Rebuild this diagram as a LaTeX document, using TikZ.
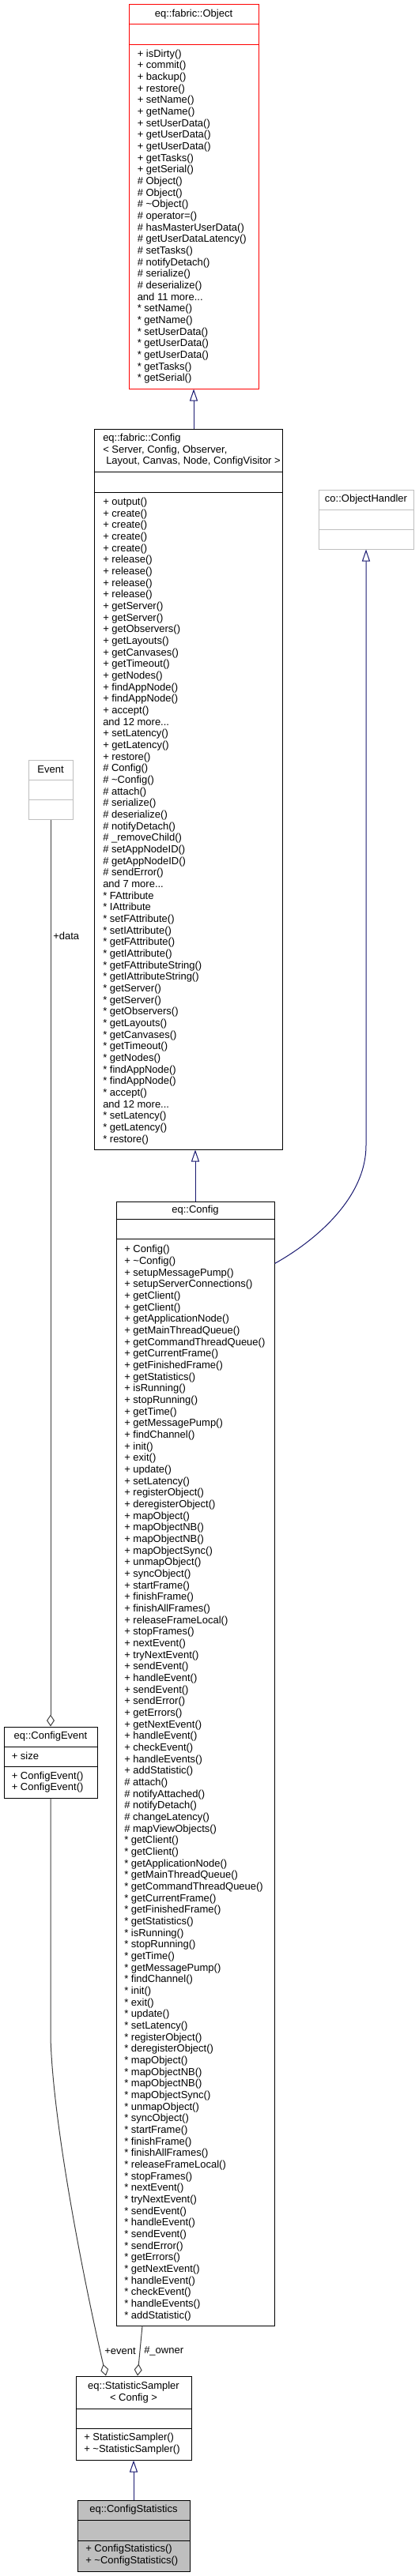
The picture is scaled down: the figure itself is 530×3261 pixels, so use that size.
\documentclass[tikz,border=0pt]{standalone}
\usepackage{fontspec}
\setmainfont{Liberation Sans}
\usetikzlibrary{arrows.meta,fit,calc}
\definecolor{genblue}{HTML}{191970}
\definecolor{aggrey}{HTML}{404040}
\definecolor{softgrey}{HTML}{BFBFBF}
\definecolor{objred}{HTML}{FF0000}
\definecolor{hilite}{HTML}{BFBFBF}
\newcommand\usep[3][black]{\draw[#1, line width=0.75pt] (#2.west |- 0,#3) -- (#2.east |- 0,#3);}
\newcommand\umllines[1]{\begin{tabular}{@{}l@{}}#1\end{tabular}}
\newcommand\umlcentre[1]{\begin{tabular}{@{}c@{}}#1\end{tabular}}
\begin{document}
\begin{tikzpicture}[x=0.75pt,y=-0.75pt,
  umlbox/.style={draw=black, line width=0.75pt, inner sep=0pt},
  txt/.style={font=\fontsize{9.75pt}{11pt}\selectfont, inner sep=0pt},
  members/.style={txt, anchor=north west},
  genarrow/.style={draw=genblue, line width=0.75pt, -{Triangle[open, length=11.25pt, width=7.5pt]}},
  aggline/.style={draw=aggrey, line width=0.75pt, {Diamond[open, length=11.25pt, width=7.5pt]}-},
  lbl/.style={txt, anchor=west},
]
\useasboundingbox (0,0) rectangle (530,3261);

% ---------- eq::fabric::Object
\node[umlbox, draw=objred, fit={(163,6) (327,492)}] (obj) {};
\usep[objred]{obj}{31}
\usep[objred]{obj}{57}
\node[txt] (objt) at (245,18) {eq::fabric::Object};
\node[members] (objm) at (173.5,61.6) {\umllines{+ isDirty()\\
+ commit()\\
+ backup()\\
+ restore()\\
+ setName()\\
+ getName()\\
+ setUserData()\\
+ getUserData()\\
+ getUserData()\\
+ getTasks()\\
+ getSerial()\\
\# Object()\\
\# Object()\\
\# \textasciitilde Object()\\
\# operator=()\\
\# hasMasterUserData()\\
\# getUserDataLatency()\\
\# setTasks()\\
\# notifyDetach()\\
\# serialize()\\
\# deserialize()\\
and 11 more...\\
{*} setName()\\
{*} getName()\\
{*} setUserData()\\
{*} getUserData()\\
{*} getUserData()\\
{*} getTasks()\\
{*} getSerial()}};

% ---------- eq::fabric::Config
\node[umlbox, fit={(119,543) (357,1455)}] (fab) {};
\usep{fab}{597}
\usep{fab}{623}
\node[members] (fabt) at (130,548.1) {\umllines{eq::fabric::Config\\
< Server, Config, Observer,\\
\hspace*{3pt}Layout, Canvas, Node, ConfigVisitor >}};
\node[members] (fabm) at (130,628.8) {\umllines{+ output()\\
+ create()\\
+ create()\\
+ create()\\
+ create()\\
+ release()\\
+ release()\\
+ release()\\
+ release()\\
+ getServer()\\
+ getServer()\\
+ getObservers()\\
+ getLayouts()\\
+ getCanvases()\\
+ getTimeout()\\
+ getNodes()\\
+ findAppNode()\\
+ findAppNode()\\
+ accept()\\
and 12 more...\\
+ setLatency()\\
+ getLatency()\\
+ restore()\\
\# Config()\\
\# \textasciitilde Config()\\
\# attach()\\
\# serialize()\\
\# deserialize()\\
\# notifyDetach()\\
\# \_removeChild()\\
\# setAppNodeID()\\
\# getAppNodeID()\\
\# sendError()\\
and 7 more...\\
{*} FAttribute\\
{*} IAttribute\\
{*} setFAttribute()\\
{*} setIAttribute()\\
{*} getFAttribute()\\
{*} getIAttribute()\\
{*} getFAttributeString()\\
{*} getIAttributeString()\\
{*} getServer()\\
{*} getServer()\\
{*} getObservers()\\
{*} getLayouts()\\
{*} getCanvases()\\
{*} getTimeout()\\
{*} getNodes()\\
{*} findAppNode()\\
{*} findAppNode()\\
{*} accept()\\
and 12 more...\\
{*} setLatency()\\
{*} getLatency()\\
{*} restore()}};

% ---------- co::ObjectHandler
\node[umlbox, draw=softgrey, fit={(403,620) (523,695)}] (oh) {};
\usep[softgrey]{oh}{645}
\usep[softgrey]{oh}{670}
\node[txt] (oht) at (463,632) {co::ObjectHandler};

% ---------- Event
\node[umlbox, draw=softgrey, fit={(36,962) (92,1037)}] (ev) {};
\usep[softgrey]{ev}{987}
\usep[softgrey]{ev}{1012}
\node[txt] (evt) at (64,974) {Event};

% ---------- eq::Config
\node[umlbox, fit={(147,1521) (347,2944)}] (cfg) {};
\usep{cfg}{1543}
\usep{cfg}{1568}
\node[txt] (cfgt) at (247,1532) {eq::Config};
\node[members] (cfgm) at (157,1575.4) {\umllines{+ Config()\\
+ \textasciitilde Config()\\
+ setupMessagePump()\\
+ setupServerConnections()\\
+ getClient()\\
+ getClient()\\
+ getApplicationNode()\\
+ getMainThreadQueue()\\
+ getCommandThreadQueue()\\
+ getCurrentFrame()\\
+ getFinishedFrame()\\
+ getStatistics()\\
+ isRunning()\\
+ stopRunning()\\
+ getTime()\\
+ getMessagePump()\\
+ findChannel()\\
+ init()\\
+ exit()\\
+ update()\\
+ setLatency()\\
+ registerObject()\\
+ deregisterObject()\\
+ mapObject()\\
+ mapObjectNB()\\
+ mapObjectNB()\\
+ mapObjectSync()\\
+ unmapObject()\\
+ syncObject()\\
+ startFrame()\\
+ finishFrame()\\
+ finishAllFrames()\\
+ releaseFrameLocal()\\
+ stopFrames()\\
+ nextEvent()\\
+ tryNextEvent()\\
+ sendEvent()\\
+ handleEvent()\\
+ sendEvent()\\
+ sendError()\\
+ getErrors()\\
+ getNextEvent()\\
+ handleEvent()\\
+ checkEvent()\\
+ handleEvents()\\
+ addStatistic()\\
\# attach()\\
\# notifyAttached()\\
\# notifyDetach()\\
\# changeLatency()\\
\# mapViewObjects()\\
{*} getClient()\\
{*} getClient()\\
{*} getApplicationNode()\\
{*} getMainThreadQueue()\\
{*} getCommandThreadQueue()\\
{*} getCurrentFrame()\\
{*} getFinishedFrame()\\
{*} getStatistics()\\
{*} isRunning()\\
{*} stopRunning()\\
{*} getTime()\\
{*} getMessagePump()\\
{*} findChannel()\\
{*} init()\\
{*} exit()\\
{*} update()\\
{*} setLatency()\\
{*} registerObject()\\
{*} deregisterObject()\\
{*} mapObject()\\
{*} mapObjectNB()\\
{*} mapObjectNB()\\
{*} mapObjectSync()\\
{*} unmapObject()\\
{*} syncObject()\\
{*} startFrame()\\
{*} finishFrame()\\
{*} finishAllFrames()\\
{*} releaseFrameLocal()\\
{*} stopFrames()\\
{*} nextEvent()\\
{*} tryNextEvent()\\
{*} sendEvent()\\
{*} handleEvent()\\
{*} sendEvent()\\
{*} sendError()\\
{*} getErrors()\\
{*} getNextEvent()\\
{*} handleEvent()\\
{*} checkEvent()\\
{*} handleEvents()\\
{*} addStatistic()}};

% ---------- eq::ConfigEvent
\node[umlbox, fit={(5,2186) (123,2276)}] (ce) {};
\usep{ce}{2211}
\usep{ce}{2236}
\node[txt] (cet) at (64,2198.5) {eq::ConfigEvent};
\node[members] (cea) at (14.5,2216.6) {\umllines{+ size}};
\node[members] (cem) at (14.5,2241.6) {\umllines{+ ConfigEvent()\\
+ ConfigEvent()}};

% ---------- eq::StatisticSampler< Config >
\node[umlbox, fit={(96,3008) (242,3114)}] (ss) {};
\usep{ss}{3049}
\usep{ss}{3074}
\node[txt, anchor=north] (sst) at (169,3014.1) {\umlcentre{eq::StatisticSampler\\
< Config >}};
\node[members] (ssm) at (106,3079.1) {\umllines{+ StatisticSampler()\\
+ \textasciitilde StatisticSampler()}};

% ---------- eq::ConfigStatistics
\node[umlbox, fill=hilite, fit={(98,3165) (240,3255)}] (cs) {};
\usep{cs}{3190}
\usep{cs}{3216}
\node[txt] (cst) at (169,3177) {eq::ConfigStatistics};
\node[members] (csm) at (108,3220.1) {\umllines{+ ConfigStatistics()\\
+ \textasciitilde ConfigStatistics()}};

% ---------- inheritance
\draw[genarrow] (fab.north -| obj.south) -- (obj.south);
\draw[genarrow] (cfg.north) -- (cfg.north |- fab.south);
\draw[genarrow] (cs.north) -- (ss.south);
\coordinate (ohbend) at (463,1450);
\draw[genarrow] ($(cfg.north east)+(0,79)$) .. controls +(45,-25) and +(0,70) .. (ohbend) -- (oh.south);

% ---------- aggregation
\draw[aggline] (ce.north) -- (ev.south);
\node[lbl] (datal) at (67,1185) {+data};
\coordinate (evbend) at (64,2580);
\draw[aggline] ($(ss.north)+(-35,0)$) .. controls (118,2940) and (68,2710) .. (evbend) -- (ce.south);
\draw[aggline] ($(ss.north)+(5,0)$) -- ($(cfg.south)+(-67,0)$);
\node[lbl] (eventl) at (132,2976) {+event};
\node[lbl] (ownerl) at (182,2976) {\#\_owner};
\end{tikzpicture}
\end{document}
